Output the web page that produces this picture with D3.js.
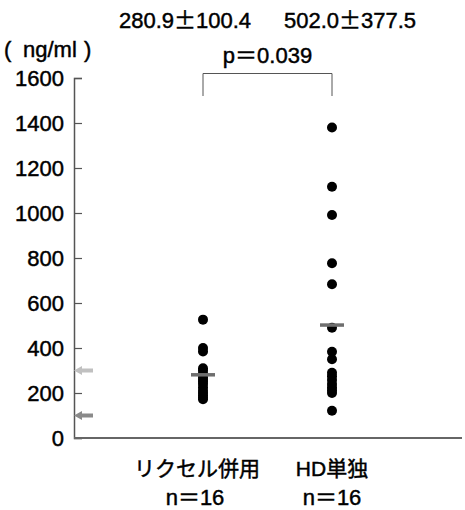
<!DOCTYPE html>
<html>
<head>
<meta charset="utf-8">
<script src="https://cdn.jsdelivr.net/npm/d3@7"></script>
<style>
  body { margin: 0; background: #fff; }
  text { font-family: "Liberation Sans", "Noto Sans CJK JP", sans-serif; fill: #000; stroke: #000; stroke-width: 0.45px; }
  .cjk { font-family: "Noto Sans CJK JP", sans-serif; }
</style>
</head>
<body>
<div id="chart"></div>
<script>
// groups and their labels
var groups = ["リクセル併用", "HD単独"];
var groupN = ["n＝16", "n＝16"];
var groupStats = [["280.9", "±", "100.4"], ["502.0", "±", "377.5"]];
var groupMeans = [280.9, 502.0];

// individual values
var combinedValues = [526, 400, 385, 310, 300, 285, 270, 260, 250, 240, 225, 210, 200, 190, 180, 172];
var hdValues = [1380, 1117, 991, 777, 683, 490, 383, 350, 290, 275, 258, 240, 225, 212, 200, 121];

// reference arrows on the y axis
var refValues = [300, 100];
var refColors = ["#c0c0c0", "#8a8a8a"];

var yTicks = [0, 200, 400, 600, 800, 1000, 1200, 1400, 1600];
var pLabel = "p＝0.039";
var unitLabel = ["(", "ng/ml", ")"];

var width = 465, height = 510;

var svg = d3.select("#chart")
    .append("svg")
    .attr("width", width)
    .attr("height", height);

var y = d3.scaleLinear().domain([0, 1600]).range([438, 78]);
var x = d3.scalePoint().domain(groups).range([74, 461]).padding(1);

var axisColor = "#555";

// y axis, ticks pointing inward
var yAxis = svg.append("g")
    .attr("transform", "translate(74,0)")
    .call(d3.axisLeft(y).tickValues(yTicks).tickSize(-8).tickSizeOuter(-8).tickPadding(10).tickFormat(d3.format("d")));
yAxis.select(".domain").attr("stroke", axisColor).attr("stroke-width", 1.5);
yAxis.selectAll(".tick line").attr("stroke", axisColor).attr("stroke-width", 1.2);
yAxis.selectAll(".tick text")
    .attr("font-size", 22)
    .attr("fill", "#000")
    .attr("font-family", null);

// x axis line
svg.append("line")
    .attr("x1", 74).attr("x2", 462)
    .attr("y1", y(0)).attr("y2", y(0))
    .attr("stroke", "#666")
    .attr("stroke-width", 2);

// reference arrows
var arrows = svg.append("g");
refValues.forEach(function(v, i){
    var yy = y(v);
    arrows.append("path")
        .attr("d", "M74," + yy + " l8,-4.5 l0,2.5 l11,0 l0,4 l-11,0 l0,2.5 z")
        .attr("fill", refColors[i]);
});

// dots
var series = [combinedValues, hdValues];
series.forEach(function(vals, i){
    svg.append("g").selectAll("circle")
        .data(vals)
        .enter()
        .append("circle")
        .attr("cx", x(groups[i]))
        .attr("cy", function(d){ return y(d); })
        .attr("r", 5)
        .attr("fill", "#000");
});

// mean bars
svg.append("g").selectAll("line")
    .data(groupMeans)
    .enter()
    .append("line")
    .attr("x1", function(d, i){ return x(groups[i]) - 12; })
    .attr("x2", function(d, i){ return x(groups[i]) + 12; })
    .attr("y1", function(d){ return y(d); })
    .attr("y2", function(d){ return y(d); })
    .attr("stroke", "#6e6e6e")
    .attr("stroke-width", 3.5);

// significance bracket
var x1 = x(groups[0]), x2 = x(groups[1]);
svg.append("path")
    .attr("d", "M" + x1 + ",96 V73.5 H" + x2 + " V96")
    .attr("fill", "none")
    .attr("stroke", "#555")
    .attr("stroke-width", 1);

svg.append("text")
    .attr("x", (x1 + x2) / 2)
    .attr("y", 63)
    .attr("text-anchor", "middle")
    .attr("font-size", 22)
    .text(pLabel);

// mean ± sd labels
var stats = svg.append("g").selectAll("text")
    .data(groupStats)
    .enter()
    .append("text")
    .attr("x", function(d, i){ return i === 0 ? 185 : 350; })
    .attr("y", 28)
    .attr("text-anchor", "middle")
    .attr("font-size", 22);
stats.append("tspan").text(function(d){ return d[0]; });
stats.append("tspan").attr("class", "cjk").text(function(d){ return d[1]; });
stats.append("tspan").text(function(d){ return d[2]; });

// unit label
var unit = svg.append("text")
    .attr("y", 57)
    .attr("font-size", 22);
unit.append("tspan").attr("x", 4).text(unitLabel[0]);
unit.append("tspan").attr("x", 23).text(unitLabel[1]);
unit.append("tspan").attr("x", 84).text(unitLabel[2]);

// group labels
svg.append("g").selectAll("text")
    .data(groups)
    .enter()
    .append("text")
    .attr("x", function(d, i){ return i === 0 ? 197 : x(d); })
    .attr("y", 476)
    .attr("text-anchor", "middle")
    .attr("font-size", 21)
    .text(function(d){ return d; });

svg.append("g").selectAll("text")
    .data(groupN)
    .enter()
    .append("text")
    .attr("x", function(d, i){ return i === 0 ? 195 : x(groups[1]); })
    .attr("y", 505)
    .attr("text-anchor", "middle")
    .attr("font-size", 22)
    .text(function(d){ return d; });
</script>
</body>
</html>
